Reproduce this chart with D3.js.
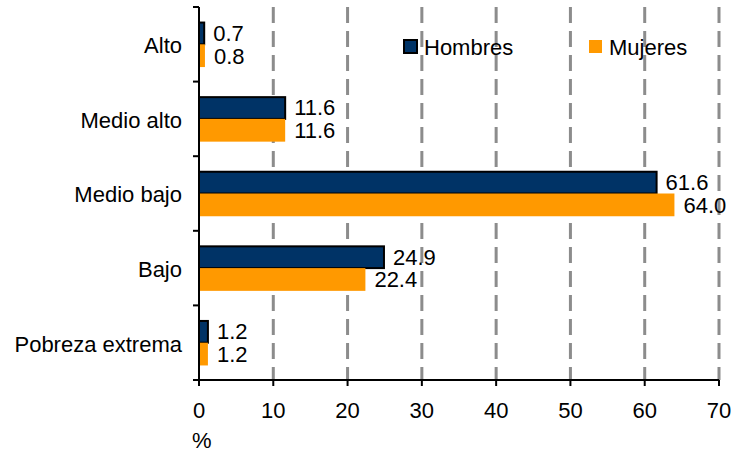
<!DOCTYPE html>
<html>
<head>
<meta charset="utf-8">
<script src="https://cdn.jsdelivr.net/npm/d3@7"></script>
<style>
  body { margin: 0; background: #fff; }
  svg text { font-family: "Liberation Sans", Arial, sans-serif; fill: #000; font-size: 22px; }
</style>
</head>
<body>
<svg id="chart" width="738" height="452"></svg>
<script>
// data
let categories = ["Alto", "Medio alto", "Medio bajo", "Bajo", "Pobreza extrema"]
let hombres = [0.7, 11.6, 61.6, 24.9, 1.2]
let mujeres = [0.8, 11.6, 64.0, 22.4, 1.2]
let seriesNames = ["Hombres", "Mujeres"]
let xTicks = [0, 10, 20, 30, 40, 50, 60, 70]

let colors = { Hombres: "#003366", Mujeres: "#ff9900" }

let svg = d3.select("#chart")

let plotLeft = 199, plotRight = 719, plotTop = 7, plotBottom = 380

let xScale = d3.scaleLinear()
    .domain([0, 70])
    .range([plotLeft, plotRight])

let yScale = d3.scaleBand()
    .domain(categories)
    .range([plotTop, plotBottom])
    .paddingInner(0.39)
    .paddingOuter(0.195)

let sub = d3.scaleBand()
    .domain(seriesNames)
    .range([0, yScale.bandwidth()])

// gridlines
svg.append("g")
    .selectAll("line")
    .data(xTicks.filter(d => d > 0))
    .enter()
    .append("line")
    .attr("x1", d => xScale(d))
    .attr("x2", d => xScale(d))
    .attr("y1", plotTop)
    .attr("y2", plotBottom)
    .attr("stroke", "#8c8c8c")
    .attr("stroke-width", 3)
    .attr("stroke-dasharray", "16,8")

// bars
let rows = categories.map((c, i) => ({ cat: c, Hombres: hombres[i], Mujeres: mujeres[i] }))
let groups = svg.append("g")
    .selectAll("g")
    .data(rows)
    .enter()
    .append("g")
    .attr("transform", d => "translate(0," + yScale(d.cat) + ")")

let bars = groups.selectAll("g")
    .data(d => seriesNames.map(s => ({ s: s, v: d[s] })))
    .enter()
    .append("g")

bars.append("rect")
    .attr("x", xScale(0))
    .attr("y", d => sub(d.s) + (d.s == "Hombres" ? 1 : 0))
    .attr("width", d => xScale(d.v) - xScale(0))
    .attr("height", d => sub.bandwidth() - (d.s == "Hombres" ? 1 : 0))
    .attr("fill", d => colors[d.s])
    .attr("stroke", d => d.s == "Hombres" ? "#000" : "none")
    .attr("stroke-width", 2)

bars.append("text")
    .attr("x", d => xScale(d.v) + 9)
    .attr("y", d => sub(d.s) + sub.bandwidth() / 2)
    .attr("dy", "0.36em")
    .text(d => d.v.toFixed(1))

// axes
let xAxis = svg.append("g")
    .attr("transform", "translate(0," + plotBottom + ")")
xAxis.append("line")
    .attr("x1", plotLeft - 1).attr("x2", plotRight)
    .attr("stroke", "#000").attr("stroke-width", 2)
xAxis.selectAll(".tick")
    .data(xTicks)
    .enter()
    .append("line")
    .attr("x1", d => xScale(d)).attr("x2", d => xScale(d))
    .attr("y1", 0).attr("y2", 6)
    .attr("stroke", "#000").attr("stroke-width", 2)
xAxis.selectAll("text")
    .data(xTicks)
    .enter()
    .append("text")
    .attr("x", d => xScale(d))
    .attr("y", 38)
    .attr("text-anchor", "middle")
    .text(d => d)

svg.append("text")
    .attr("x", plotLeft - 7)
    .attr("y", 448)
    .text("%")

let yAxis = svg.append("g")
yAxis.append("line")
    .attr("x1", plotLeft).attr("x2", plotLeft)
    .attr("y1", plotTop).attr("y2", plotBottom)
    .attr("stroke", "#000").attr("stroke-width", 2)
let bounds = categories.map(c => yScale(c) - yScale.step() * yScale.paddingInner() / 2)
bounds.push(plotBottom)
yAxis.selectAll(".tick")
    .data(bounds)
    .enter()
    .append("line")
    .attr("x1", plotLeft - 6).attr("x2", plotLeft)
    .attr("y1", d => d).attr("y2", d => d)
    .attr("stroke", "#000").attr("stroke-width", 2)
yAxis.selectAll("text")
    .data(categories)
    .enter()
    .append("text")
    .attr("x", 182)
    .attr("y", d => yScale(d) + yScale.bandwidth() / 2 + 1)
    .attr("dy", "0.36em")
    .attr("text-anchor", "end")
    .text(d => d)

// legend
let legend = svg.append("g")
let legendX = { Hombres: 404, Mujeres: 589 }
legend.selectAll("rect")
    .data(seriesNames)
    .enter()
    .append("rect")
    .attr("x", d => legendX[d])
    .attr("y", 40)
    .attr("width", 13)
    .attr("height", 13)
    .attr("fill", d => colors[d])
    .attr("stroke", d => d == "Hombres" ? "#000" : "none")
    .attr("stroke-width", 2)
legend.selectAll("text")
    .data(seriesNames)
    .enter()
    .append("text")
    .attr("x", d => legendX[d] + 20)
    .attr("y", 47)
    .attr("dy", "0.36em")
    .text(d => d)
</script>
</body>
</html>
